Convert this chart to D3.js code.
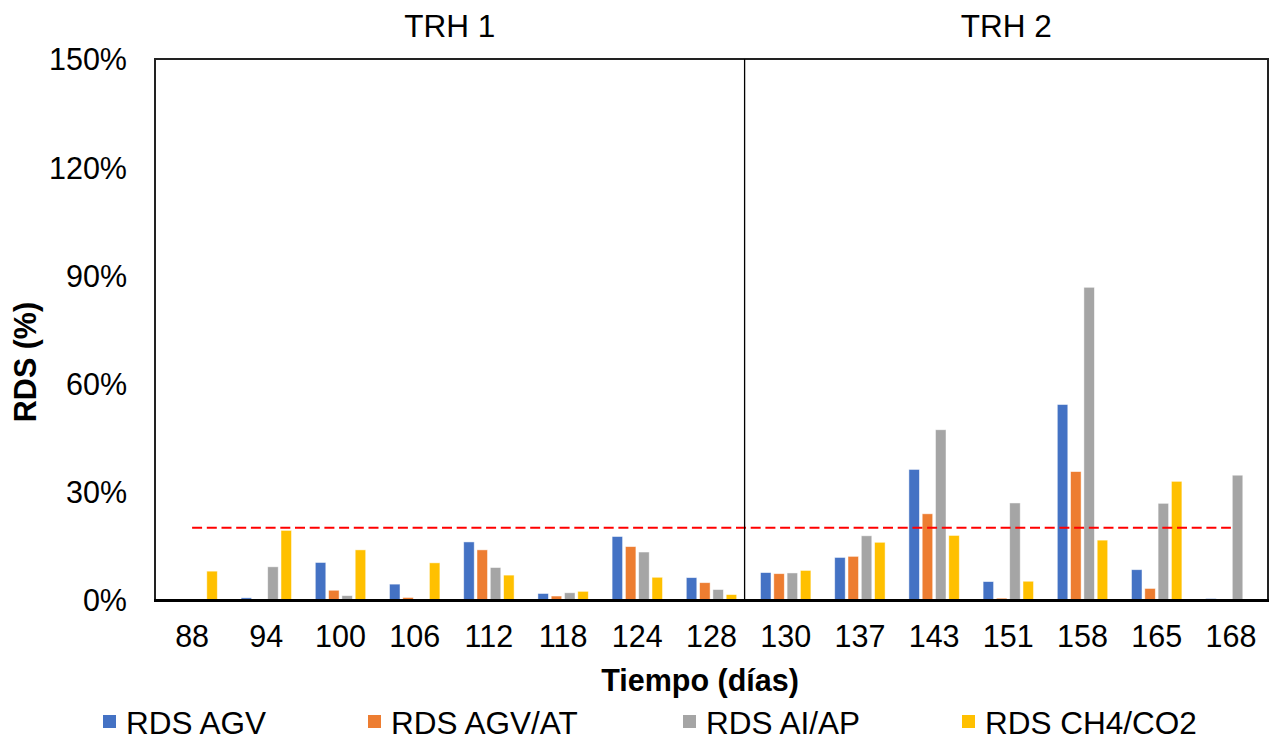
<!DOCTYPE html>
<html>
<head>
<meta charset="utf-8">
<script src="https://cdn.jsdelivr.net/npm/d3@7"></script>
<style>
  body { margin: 0; background: #fff; }
  text { font-family: Arial, "Liberation Sans", sans-serif; fill: #000; }
</style>
</head>
<body>
<div id="hook-chart"></div>
<script>
'use strict';

var days = ['88', '94', '100', '106', '112', '118', '124', '128', '130', '137', '143', '151', '158', '165', '168'];
var seriesNames = ['RDS AGV', 'RDS AGV/AT', 'RDS AI/AP', 'RDS CH4/CO2'];
var seriesColors = ['#4472C4', '#ED7D31', '#A5A5A5', '#FFC000'];

// values in %
var rdsAgv   = [0, 0.6, 10.4, 4.4, 16.1, 1.8, 17.6, 6.2, 7.6, 11.8, 36.2, 5.1, 54.2, 8.4, 0.4];
var rdsAgvAt = [0, 0.2, 2.7, 0.7, 13.9, 1.1, 14.8, 4.8, 7.3, 12.1, 23.9, 0.5, 35.6, 3.2, 0];
var rdsAiAp  = [0, 9.2, 1.2, 0.2, 9.0, 2.0, 13.3, 2.9, 7.5, 17.8, 47.2, 26.9, 86.7, 26.8, 34.6];
var rdsCh4   = [8.0, 19.3, 13.9, 10.3, 6.9, 2.4, 6.3, 1.5, 8.2, 16.0, 17.9, 5.2, 16.6, 32.9, 0];

var yTicks = [0, 30, 60, 90, 120, 150];
var threshold = 20;
var phases = [{ label: 'TRH 1', from: '88', to: '128' }, { label: 'TRH 2', from: '130', to: '168' }];

(function() {

var width = 1273, height = 741;
var pLeft = 155, pRight = 1268, pTop = 59, pBottom = 600;

var svg = d3.select('#hook-chart')
  .append('svg')
  .attr('width', width)
  .attr('height', height);

var x = d3.scaleBand().domain(days).range([pLeft, pRight]).padding(0);
var inner = d3.scaleBand().domain(seriesNames).range([-25.2, 25.2]).paddingInner(0.21);
var y = d3.scaleLinear().domain([0, 150]).range([pBottom, pTop]);

var allSeries = [rdsAgv, rdsAgvAt, rdsAiAp, rdsCh4];

// bars
allSeries.forEach(function(vals, s) {
  svg.append('g')
    .selectAll('rect')
    .data(vals)
    .enter()
    .append('rect')
    .attr('x', function(d, i) { return x(days[i]) + x.bandwidth() / 2 + inner(seriesNames[s]); })
    .attr('y', function(d) { return y(d); })
    .attr('width', inner.bandwidth())
    .attr('height', function(d) { return y(0) - y(d); })
    .style('fill', seriesColors[s])
    .style('stroke', 'rgba(255,255,255,0.6)')
    .style('stroke-width', 0.8);
});

// threshold line
svg.append('line')
  .attr('x1', x(days[0]) + x.bandwidth() / 2)
  .attr('x2', x(days[days.length - 1]) + x.bandwidth() / 2)
  .attr('y1', y(threshold))
  .attr('y2', y(threshold))
  .style('stroke', '#FF0000')
  .style('stroke-width', 2)
  .style('stroke-dasharray', '10,4.7');

// frame
svg.append('rect')
  .attr('x', pLeft)
  .attr('y', pTop)
  .attr('width', pRight - pLeft)
  .attr('height', pBottom - pTop)
  .style('fill', 'none')
  .style('stroke', '#222')
  .style('stroke-width', 2);

svg.append('line')
  .attr('x1', pLeft - 1).attr('x2', pRight + 1)
  .attr('y1', pBottom + 0.5).attr('y2', pBottom + 0.5)
  .style('stroke', '#000')
  .style('stroke-width', 3);

// phase divider + labels
var divX = x(phases[1].from) - 4;
svg.append('line')
  .attr('x1', divX).attr('x2', divX)
  .attr('y1', pTop).attr('y2', pBottom)
  .style('stroke', '#000')
  .style('stroke-width', 1.3);

phases.forEach(function(p, i) {
  var x0 = i === 0 ? pLeft : divX;
  var x1 = i === 0 ? divX : pRight;
  svg.append('text')
    .attr('x', (x0 + x1) / 2)
    .attr('y', 37)
    .attr('text-anchor', 'middle')
    .style('font-size', '31.5px')
    .text(p.label);
});

// y axis labels
var yAxis = d3.axisLeft(y)
  .tickValues(yTicks)
  .tickSize(0)
  .tickPadding(28)
  .tickFormat(function(d) { return d + '%'; });

var gy = svg.append('g')
  .attr('transform', 'translate(' + pLeft + ',0)')
  .call(yAxis);
gy.select('.domain').remove();
gy.selectAll('text')
  .style('font-size', '30.5px')
  .attr('dy', '0.36em');

// x axis labels
var xAxis = d3.axisBottom(x).tickSize(0).tickPadding(28);
var gx = svg.append('g')
  .attr('transform', 'translate(0,' + pBottom + ')')
  .call(xAxis);
gx.select('.domain').remove();
gx.selectAll('text')
  .style('font-size', '30.5px')
  .attr('dy', '0.71em')
  .attr('y', 25);

// axis titles
svg.append('text')
  .attr('x', 700)
  .attr('y', 691)
  .attr('text-anchor', 'middle')
  .style('font-size', '30.5px')
  .style('font-weight', 'bold')
  .text('Tiempo (días)');

svg.append('text')
  .attr('transform', 'translate(36,362) rotate(-90)')
  .attr('text-anchor', 'middle')
  .style('font-size', '30.5px')
  .style('font-weight', 'bold')
  .text('RDS (%)');

// legend
var legendX = [103, 368, 683, 962];
var legend = svg.append('g');
seriesNames.forEach(function(n, i) {
  legend.append('rect')
    .attr('x', legendX[i])
    .attr('y', 715)
    .attr('width', 13)
    .attr('height', 13)
    .style('fill', seriesColors[i]);
  legend.append('text')
    .attr('x', legendX[i] + 23)
    .attr('y', 734)
    .style('font-size', '31.5px')
    .text(n);
});

}());
</script>
</body>
</html>
